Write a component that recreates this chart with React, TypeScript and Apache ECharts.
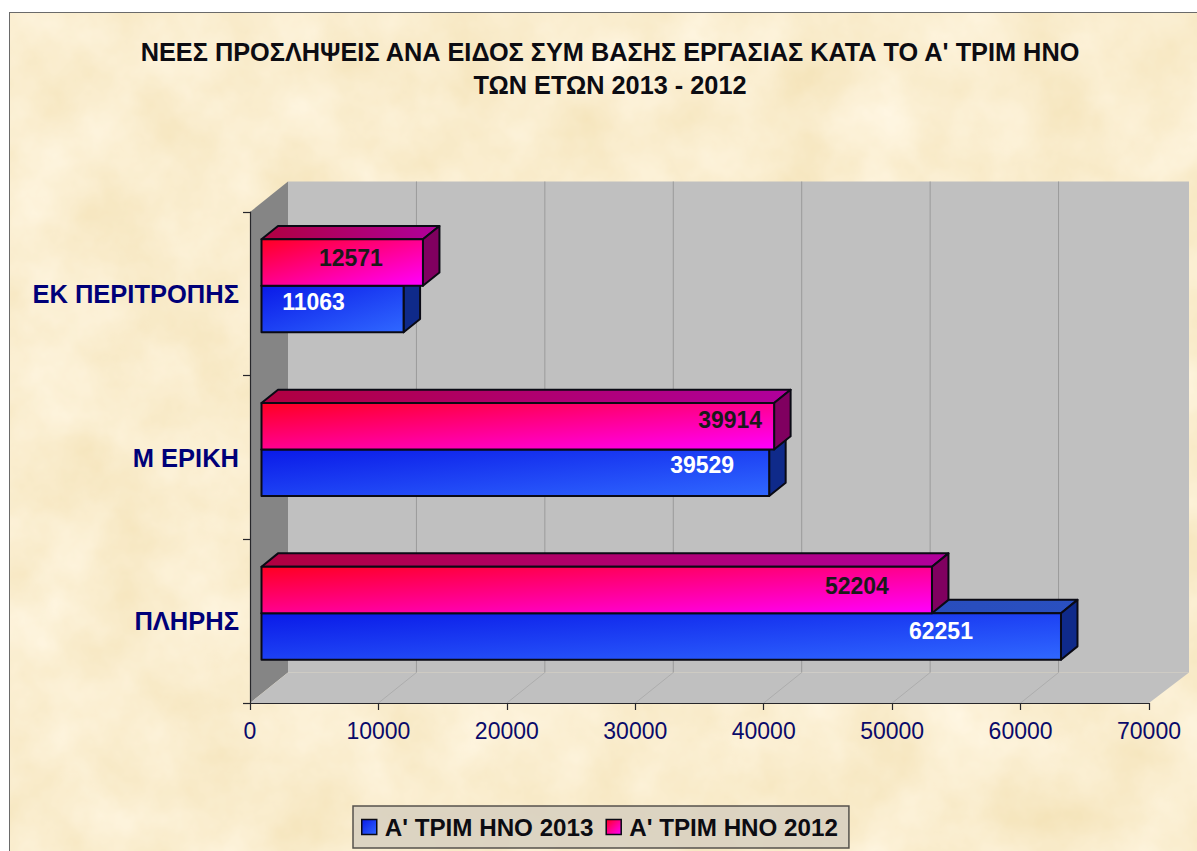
import React, { useEffect, useRef } from "react";
import * as echarts from "echarts";

const categories = ["ΠΛΗΡΗΣ", "Μ ΕΡΙΚΗ", "ΕΚ ΠΕΡΙΤΡΟΠΗΣ"];
const values2013 = [62251, 39529, 11063];
const values2012 = [52204, 39914, 12571];
const name2013 = "Α' ΤΡΙΜ ΗΝΟ 2013";
const name2012 = "Α' ΤΡΙΜ ΗΝΟ 2012";
const gridTicks = [10000, 20000, 30000, 40000, 50000, 60000];
const titleText = "ΝΕΕΣ ΠΡΟΣΛΗΨΕΙΣ ΑΝΑ ΕΙΔΟΣ ΣΥΜ ΒΑΣΗΣ ΕΡΓΑΣΙΑΣ ΚΑΤΑ ΤΟ Α' ΤΡΙΜ ΗΝΟ\nΤΩΝ ΕΤΩΝ 2013 - 2012";

// layout (pixels), not data
const WALL_DX = 38, WALL_DY = 30.5, WALL_EXTRA = 2;
const BAR_SHIFT_X = 11.5, BAR_SHIFT_Y = -8, BAR_H = 46.5, BAR_DX = 16.5, BAR_DY = 13.3;
const LABEL_X_2013 = [-120, -67, -90];
const LABEL_X_2012 = [-75, -44, -72];
const LABEL_Y_2013 = [-5, -8, -7];
const LABEL_Y_2012 = [-4, -6, -5];

const texture =
  "url(\"data:image/svg+xml;utf8," +
  encodeURIComponent(
    `<svg xmlns='http://www.w3.org/2000/svg' width='1197' height='851'><filter id='n' color-interpolation-filters='sRGB' x='0' y='0' width='100%' height='100%'><feTurbulence type='fractalNoise' baseFrequency='0.012' numOctaves='5' seed='7'/><feColorMatrix type='matrix' values='0.05 0 0 0 0.955  0.09 0 0 0 0.885  0.2 0 0 0 0.71  0 0 0 0 1'/></filter><rect width='1197' height='851' filter='url(#n)'/></svg>`
  ) +
  "\")";

const grad = (a: string, b: string, x2 = 1, y2 = 1) =>
  new echarts.graphic.LinearGradient(0, 0, x2, y2, [
    { offset: 0, color: a },
    { offset: 1, color: b },
  ]);

const barItem = (
  front: [string, string],
  top: [string, string],
  side: string,
  labelColor: string,
  labelX: number[],
  labelY: number[],
  slot: number
) => (_p: any, api: any) => {
  const val = api.value(0);
  const idx = api.value(1);
  const zero = api.coord([0, idx]);
  const end = api.coord([val, idx]);
  const x0 = zero[0] + BAR_SHIFT_X;
  const x1 = end[0] + BAR_SHIFT_X;
  const yt = end[1] + BAR_SHIFT_Y + (slot - 1) * BAR_H;
  const yb = yt + BAR_H;
  const line = { stroke: "#0a0a14", lineWidth: 2, lineJoin: "round" };
  return {
    type: "group",
    children: [
      {
        type: "polygon",
        shape: { points: [[x0, yt], [x0 + BAR_DX, yt - BAR_DY], [x1 + BAR_DX, yt - BAR_DY], [x1, yt]] },
        style: { fill: grad(top[0], top[1], 1, 0), ...line },
      },
      {
        type: "polygon",
        shape: { points: [[x1, yt], [x1 + BAR_DX, yt - BAR_DY], [x1 + BAR_DX, yb - BAR_DY], [x1, yb]] },
        style: { fill: side, ...line },
      },
      {
        type: "rect",
        shape: { x: x0, y: yt, width: x1 - x0, height: BAR_H },
        style: { fill: grad(front[0], front[1]), ...line },
      },
      {
        type: "text",
        style: {
          text: String(val),
          x: x1 + labelX[idx],
          y: yt + BAR_H / 2 + labelY[idx],
          align: "center",
          verticalAlign: "middle",
          fill: labelColor,
          font: "bold 23px 'Liberation Sans'",
        },
      },
    ],
  };
};

const wallItem = (p: any, api: any) => {
  const { x, y, width, height } = p.coordSys;
  const b = y + height;
  const r = x + width;
  const t = y;
  const children: any[] = [
    {
      type: "polygon",
      shape: { points: [[x, t], [x + WALL_DX, t - WALL_DY], [x + WALL_DX, b - WALL_DY], [x, b]] },
      style: { fill: "#858585" },
    },
    {
      type: "polygon",
      shape: { points: [[x, b], [x + WALL_DX, b - WALL_DY], [r + WALL_DX + WALL_EXTRA, b - WALL_DY], [r, b]] },
      style: { fill: "#C0C0C0" },
    },
    {
      type: "rect",
      shape: { x: x + WALL_DX, y: t - WALL_DY, width: width + WALL_EXTRA, height: height },
      style: { fill: "#C0C0C0" },
    },
  ];
  gridTicks.forEach((v) => {
    const px = api.coord([v, 0])[0];
    children.push({
      type: "line",
      shape: { x1: px + WALL_DX, y1: t - WALL_DY, x2: px + WALL_DX, y2: b - WALL_DY },
      style: { stroke: "#9a9a9a", lineWidth: 1 },
    });
    children.push({
      type: "line",
      shape: { x1: px, y1: b, x2: px + WALL_DX, y2: b - WALL_DY },
      style: { stroke: "#adadad", lineWidth: 1 },
    });
  });
  return { type: "group", children };
};

export default function App() {
  const ref = useRef<HTMLDivElement>(null);
  useEffect(() => {
    const chart = echarts.init(ref.current!, null, { renderer: "svg" });
    chart.setOption({
      animation: false,
      title: {
        text: titleText,
        left: 605,
        top: 30,
        textAlign: "center",
        textStyle: {
          fontFamily: "'Liberation Sans'",
          fontWeight: "bold",
          fontSize: 25.3,
          lineHeight: 33,
          color: "#0c0c12",
        },
      },
      legend: {
        data: [
          { name: name2013, itemStyle: { color: grad("#0a1ae8", "#3068ff"), borderColor: "#0a0a14", borderWidth: 1.5 } },
          { name: name2012, itemStyle: { color: grad("#ff0020", "#ff00ff"), borderColor: "#0a0a14", borderWidth: 1.5 } },
        ],
        left: 353,
        top: 806,
        icon: "rect",
        itemWidth: 15,
        itemHeight: 15,
        itemGap: 12,
        padding: [9, 11, 9, 8],
        backgroundColor: "rgba(216,208,192,0.9)",
        borderColor: "#55524c",
        borderWidth: 1.5,
        textStyle: {
          fontFamily: "'Liberation Sans'",
          fontWeight: "bold",
          fontSize: 24.2,
          color: "#0c0c12",
          padding: [0, 0, 0, 3],
        },
      },
      grid: { left: 250, right: 48, top: 212, height: 491 },
      xAxis: {
        type: "value",
        min: 0,
        max: 70000,
        interval: 10000,
        z: 4,
        splitLine: { show: false },
        axisLine: { show: true, lineStyle: { color: "#26262a", width: 1.2 } },
        axisTick: { show: true, length: 7, lineStyle: { color: "#26262a", width: 1.2 } },
        axisLabel: {
          fontFamily: "'Liberation Sans'",
          fontSize: 23,
          color: "#0a0a6a",
          margin: 16,
          hideOverlap: false,
          formatter: (v: number) => String(v),
        },
      },
      yAxis: {
        type: "category",
        data: categories,
        z: 4,
        axisLine: { show: true, lineStyle: { color: "#26262a", width: 1.2 } },
        axisTick: { show: true, length: 7, lineStyle: { color: "#26262a", width: 1.2 } },
        splitLine: { show: false },
        axisLabel: {
          fontFamily: "'Liberation Sans'",
          fontWeight: "bold",
          fontSize: 25.5,
          color: "#000078",
          margin: 11,
          padding: [0, 0, 2, 0],
        },
      },
      series: [
        {
          name: "wall",
          type: "custom",
          z: 1,
          silent: true,
          renderItem: wallItem,
          data: [[0, 0]],
          encode: { x: 0, y: 1 },
        },
        {
          name: name2013,
          type: "custom",
          z: 2,
          itemStyle: { color: "#2a55ff" },
          renderItem: barItem(["#0a1ae8", "#3068ff"], ["#2240b0", "#2a50c0"], "#0f2a8a", "#ffffff", LABEL_X_2013, LABEL_Y_2013, 1),
          data: values2013.map((v, i) => [v, i]),
          encode: { x: 0, y: 1 },
        },
        {
          name: name2012,
          type: "custom",
          z: 3,
          itemStyle: { color: "#ff00b0" },
          renderItem: barItem(["#ff0020", "#ff00ff"], ["#b00040", "#b0009c"], "#800060", "#1a1a1a", LABEL_X_2012, LABEL_Y_2012, 0),
          data: values2012.map((v, i) => [v, i]),
          encode: { x: 0, y: 1 },
        },
      ],
    });
    return () => chart.dispose();
  }, []);
  return (
    <div style={{ position: "fixed", left: 0, top: 0, width: 1197, height: 851, background: "#fff", overflow: "hidden" }}>
      <div
        style={{
          position: "absolute",
          left: 9,
          top: 12,
          width: 1197,
          height: 851,
          boxSizing: "border-box",
          borderLeft: "1px solid #6a6a6a",
          borderTop: "1px solid #6a6a6a",
          backgroundImage: texture,
        }}
      />
      <div ref={ref} style={{ position: "absolute", left: 0, top: 0, width: 1197, height: 851 }} />
    </div>
  );
}
